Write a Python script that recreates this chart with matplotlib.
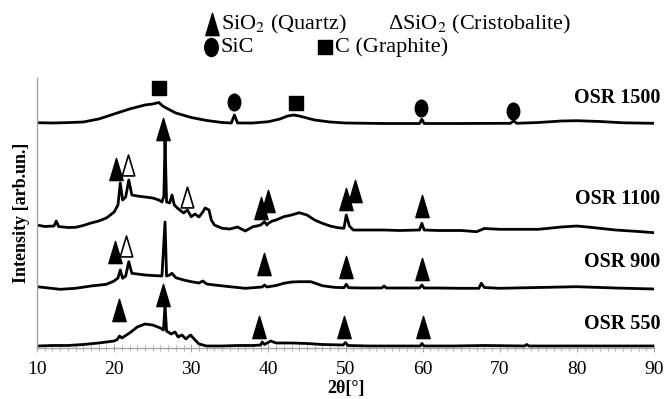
import numpy as np
import matplotlib
matplotlib.use("Agg")
import matplotlib.pyplot as plt
from matplotlib.path import Path
from matplotlib.transforms import Affine2D
from matplotlib.lines import Line2D

plt.rcParams["font.family"] = ["Liberation Serif", "DejaVu Serif"]
plt.rcParams["mathtext.fontset"] = "stix"

# XRD traces (2theta in deg, intensity in arb. units, offset stacked)
x_1500 = [10, 12, 14, 16, 18, 20, 22, 24, 25, 25.8, 26.3, 27, 28, 30, 32, 34, 35.2, 35.6, 36,
          38, 40, 41.5, 42.5, 43.3, 44, 45, 46, 48, 50, 55, 59.6, 59.9, 60.2, 65, 71.4, 71.8,
          72.2, 75, 78, 80, 83, 86, 90]
y_1500 = [225.3, 225, 225.4, 226, 229, 234, 239, 243, 244, 245.5, 242, 239, 235, 230.5, 227.5,
          225.5, 225, 233, 225, 225, 226.3, 229, 232, 233, 232, 230, 228, 226, 225, 224.5,
          224.5, 228.7, 224.5, 224.5, 224.7, 227.3, 224.7, 225.5, 227, 227.3, 226.5, 225.2, 224.7]

x_1100 = [10, 11, 12.2, 12.5, 12.8, 13, 14, 15, 16, 17, 18, 19, 20, 20.5, 20.8, 21.1, 21.5,
          21.9, 22.3, 23, 24, 25, 25.8, 26.2, 26.45, 26.6, 26.8, 27.2, 27.5, 27.8, 28.2, 29,
          29.5, 30, 30.5, 31, 31.5, 31.8, 32.3, 32.6, 33, 34, 35, 36, 37, 38, 38.5, 39, 39.5,
          39.8, 40, 40.5, 41, 42, 43, 44, 45, 46, 47, 48, 49, 49.8, 50.1, 50.5, 51, 53, 55,
          57, 59.6, 59.9, 60.2, 62, 65, 67, 68, 70, 75, 78, 80, 82, 85, 88, 90]
y_1100 = [123, 121.5, 122, 127, 121.5, 121.3, 120.5, 120.7, 122.5, 125, 127, 130, 136, 143,
          165, 148, 151, 168, 153, 152, 151, 150, 148, 146, 152, 208, 146, 145, 153, 143, 140,
          135, 138, 131.3, 134, 131, 136, 140, 138, 128, 123, 119.7, 119, 121, 117, 121.3, 122,
          123, 126.3, 123, 124.7, 127, 128, 131.3, 133, 135.3, 133, 128, 124.7, 122, 120.3,
          119.7, 133, 122, 118, 118, 118, 117.5, 118, 124.7, 118, 117.5, 117.5, 116.3, 119.5,
          118.7, 118.7, 121, 122, 120.5, 118, 116.5, 115.3]

x_900 = [10, 11.5, 13, 15, 17, 19, 20, 20.5, 20.8, 21.1, 21.5, 21.9, 22.3, 23, 24, 25, 26.2,
         26.6, 26.8, 27.2, 27.5, 28, 29, 30, 31, 31.5, 32, 33, 35, 37, 39.2, 39.5, 39.8, 41, 42,
         43, 44, 45.5, 47, 48.5, 49.8, 50.1, 50.4, 52, 54.7, 55, 55.3, 57, 59.6, 59.9, 60.2, 62,
         65, 67.3, 67.6, 68, 70, 75, 80, 85, 90]
y_900 = [61.3, 60, 58.7, 59.7, 62, 63.7, 67, 70, 78, 69.7, 72, 86.3, 74.7, 74, 73, 72.5, 72,
         126, 72, 73, 74.7, 70.3, 68, 66.3, 65, 67, 64, 63, 61.3, 59.7, 61, 63, 61, 62.5, 64.7,
         66, 66.3, 66.3, 62.3, 60.7, 60.3, 63.7, 60.3, 60, 60, 62, 60, 60, 60, 63, 60, 60, 59.7,
         59.7, 64.7, 60.5, 59.7, 60.5, 61.3, 60, 59]

x_550 = [10, 12, 14, 16, 18, 19, 20, 20.4, 20.7, 21, 22, 23, 24, 25, 26, 26.4, 26.6, 26.8,
         27.4, 27.9, 28.3, 28.8, 29.3, 29.9, 30.5, 31, 32, 34, 36, 38, 39, 39.2, 39.5, 40.3, 41,
         43, 45, 47, 49.7, 50, 50.3, 53, 57, 59.7, 59.9, 60.2, 64, 68, 73.2, 73.5, 73.8, 78, 84, 90]
y_550 = [2, 2.5, 2.5, 3.5, 5, 6, 7, 8.5, 12, 10, 15, 21, 24, 23, 20, 18, 43, 17, 14, 16, 11,
         13, 9, 13, 8, 4, 2, 2, 2.5, 2.5, 3, 6, 3.5, 7, 5, 5, 4.5, 3.5, 3, 5.5, 2.5, 2, 2, 2,
         4.5, 2, 2, 2.5, 2, 3.5, 2, 2, 2, 2]

traces = [(x_1500, y_1500), (x_1100, y_1100), (x_900, y_900), (x_550, y_550)]
labels = ["OSR 1500", "OSR 1100", "OSR 900", "OSR 550"]
label_y = [250, 149, 86, 24]

# phase markers (2theta, height)
quartz_x = [26.4, 20.2, 39.0, 39.9, 50.1, 51.2, 59.9, 20.1, 39.4, 50.1, 59.9,
            20.6, 26.3, 38.8, 49.8, 60.0]
quartz_y = [219, 179, 140, 147, 149, 157, 142, 96, 84.5, 81.5, 79.5,
            38, 53, 21, 21, 21]
cristo_x = [21.8, 29.5, 21.6]
cristo_y = [183, 151, 102]
sic_x = [35.6, 59.8, 71.7]
sic_y = [246.3, 239.7, 237]
graph_x = [25.8, 43.6]
graph_y = [259.7, 244.7]

tri = Path([(-0.3, -0.5), (0.3, -0.5), (0, 0.5), (-0.3, -0.5)],
           [Path.MOVETO, Path.LINETO, Path.LINETO, Path.CLOSEPOLY])
ell = Path.unit_circle().transformed(Affine2D().scale(0.75, 1.0))

fig = plt.figure(figsize=(6.66, 3.99), dpi=100)
ax = fig.add_axes([37 / 666, 51 / 399, 617 / 666, 270 / 399])

for (xs, ys) in traces:
    ax.plot(xs, ys, color="black", lw=2.0, solid_joinstyle="round")

for lab, ly in zip(labels, label_y):
    ax.text(90.8, ly, lab, ha="right", va="center", fontsize=14.5, fontweight="bold",
            clip_on=False)

ax.plot(quartz_x, quartz_y, ls="none", marker=tri, ms=16, color="black")
ax.plot(cristo_x, cristo_y, ls="none", marker=tri, ms=15, mfc="white", mec="black", mew=1.2)
ax.plot(sic_x, sic_y, ls="none", marker=ell, ms=12, color="black")
ax.plot(graph_x, graph_y, ls="none", marker="s", ms=10, color="black")

ax.set_xlim(10, 90)
ax.set_ylim(0, 270)
ax.set_xticks(np.arange(10, 91, 10))
ax.set_xticks(np.arange(10, 91, 1), minor=True)
ax.set_yticks([])
for side in ["top", "right"]:
    ax.spines[side].set_visible(False)
for side in ["left", "bottom"]:
    ax.spines[side].set_color("#a6a6a6")
    ax.spines[side].set_linewidth(1.0)
ax.tick_params(axis="x", which="both", direction="inout", color="#a6a6a6", labelsize=14, pad=6)
ax.tick_params(axis="x", which="major", length=6)
ax.tick_params(axis="x", which="minor", length=4)
ax.set_xlabel("2θ[°]", fontsize=13, fontweight="bold", labelpad=2)
ax.set_ylabel("Intensity [arb.un.]", fontsize=13, fontweight="bold", labelpad=5)

# legend on top
fig.add_artist(Line2D([212 / 666], [1 - 24 / 399], marker=tri, ms=16, color="black", ls="none"))
fig.text(221 / 666, 1 - 24 / 399, "SiO$_2$ (Quartz)", fontsize=16, va="center")
fig.text(388 / 666, 1 - 24 / 399, "ΔSiO$_2$ (Cristobalite)", fontsize=16, va="center")
fig.add_artist(Line2D([211 / 666], [1 - 47 / 399], marker=ell, ms=13, color="black", ls="none"))
fig.text(221 / 666, 1 - 47 / 399, "SiC", fontsize=16, va="center")
fig.add_artist(Line2D([325 / 666], [1 - 47 / 399], marker="s", ms=10, color="black", ls="none"))
fig.text(335 / 666, 1 - 47 / 399, "C (Graphite)", fontsize=16, va="center")

fig.savefig("out.png", dpi=100)
